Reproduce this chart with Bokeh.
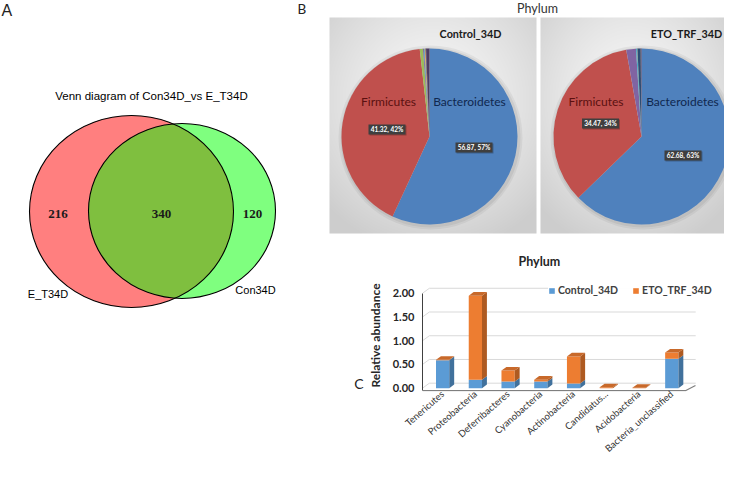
import math
import numpy as np
from bokeh.plotting import figure
from bokeh.layouts import row, column
from bokeh.models import Range1d, FixedTicker, Legend, LegendItem, NumeralTickFormatter
from bokeh.embed import file_html
from bokeh.resources import INLINE
from bokeh.core.properties import value

# ---------------- data ----------------
venn_names = ["E_T34D", "Con34D"]
venn_counts = [216, 340, 120]          # only E_T34D, shared, only Con34D
venn_title = "Venn diagram of Con34D_vs E_T34D"

pie_title = "Phylum"
pie_groups = ["Control_34D", "ETO_TRF_34D"]
pie_major = ["Bacteroidetes", "Firmicutes"]
control_major = [56.87, 41.32]
eto_major = [62.68, 34.47]
control_major_pct = [57, 42]
eto_major_pct = [63, 34]

bar_title = "Phylum"
bar_phyla = ["Tenericutes", "Proteobacteria", "Deferribacteres", "Cyanobacteria",
             "Actinobacteria", "Candidatus...", "Acidobacteria", "Bacteria_unclassified"]
control_bar = [0.59, 0.18, 0.14, 0.14, 0.10, 0.00, 0.00, 0.62]
eto_bar = [0.01, 1.77, 0.23, 0.04, 0.57, 0.02, 0.01, 0.13]
y_ticks = [0.0, 0.5, 1.0, 1.5, 2.0]
y_label = "Relative abundance"

# ---------------- styles ----------------
FONT = "Lato"
PIE_COLORS = ["#4F81BD", "#C0504D", "#9BBB59", "#8064A2", "#4BACC6",
              "#F79646", "#2C4D75", "#772C2A", "#5F7530", "#4D3B62"]
BLUE, BLUE_SIDE = "#5B9BD5", "#41719C"
ORANGE, ORANGE_SIDE, ORANGE_TOP = "#ED7D31", "#AE5A21", "#C8692A"
W, H = 724, 461


def bare_fig(w, h, xr, yr):
    p = figure(width=w, height=h, x_range=Range1d(*xr), y_range=Range1d(*yr),
               output_backend="svg", toolbar_location=None,
               x_axis_location=None, y_axis_location=None, min_border=0)
    p.outline_line_color = None
    p.grid.visible = False
    p.frame_align = False
    return p


def txt(p, x, y, s, size, color="black", font=FONT, style="normal", align="center", baseline="middle"):
    p.text(x=[x], y=[y], text=[s], text_font=value(font), text_font_size=size,
           text_color=color, text_font_style=style, text_align=align, text_baseline=baseline)


# ================= A : Venn =================
VENN_R = 290
vp = bare_fig(VENN_R, H, (0, VENN_R), (-H, 0))
txt(vp, 1, -1, "A", "16px", color="#222222", font="Liberation Sans", align="left", baseline="top")
txt(vp, 151, -95, venn_title, "11.5px", font="Liberation Sans")
ell = dict(x=[131, 181.5], y=[-211, -210.5], width=[204, 187], height=[192, 175])
vp.ellipse(x=ell["x"][:1], y=ell["y"][:1], width=ell["width"][:1], height=ell["height"][:1],
           fill_color="#FF0000", fill_alpha=0.5, line_color=None)
vp.ellipse(x=ell["x"][1:], y=ell["y"][1:], width=ell["width"][1:], height=ell["height"][1:],
           fill_color="#00FF00", fill_alpha=0.5, line_color=None)
vp.ellipse(x=ell["x"], y=ell["y"], width=ell["width"], height=ell["height"],
           fill_color=None, line_color="black", line_width=1.1)
for (cx, cy), n in zip([(57.5, -213), (161, -213), (252, -213)], venn_counts):
    txt(vp, cx, cy, str(n), "13px", color="#1a1a1a", font="Liberation Serif", style="bold")
txt(vp, 47.5, -293, venn_names[0], "11px", font="Liberation Sans")
txt(vp, 255, -289, venn_names[1], "11px", font="Liberation Sans")

# ================= B : pies =================
PIE_BOTTOM = 236
pp = bare_fig(W - VENN_R, PIE_BOTTOM, (VENN_R, W), (-PIE_BOTTOM, 0))
txt(pp, 297, -8, "B", "13.5px", color="#222222", align="left")
txt(pp, 537, -7.5, pie_title, "12.5px", color="#333333")


def gradient(w, h):
    yy, xx = np.mgrid[0:h, 0:w]
    u = (xx + 0.5) / w - 0.5
    v = (yy + 0.5) / h - 0.62
    d = np.clip(np.sqrt(u ** 2 + v ** 2) / 0.72, 0, 1)
    c = (247 - 42 * d ** 1.4).astype(np.uint8)
    img = np.empty((h, w), dtype=np.uint32)
    view = img.view(dtype=np.uint8).reshape((h, w, 4))
    view[..., 0] = c
    view[..., 1] = c
    view[..., 2] = c
    view[..., 3] = 255
    return img


boxes = [(329, 536), (540, W)]
BOX_TOP, BOX_BOT = 17, 233
for (l, r) in boxes:
    pp.image_rgba(image=[gradient(r - l, BOX_BOT - BOX_TOP)], x=l, y=-BOX_BOT,
                  dw=r - l, dh=BOX_BOT - BOX_TOP)

pie_specs = [
    (429, -136, control_major + control_bar, control_major, control_major_pct,
     [(388, -101), (469, -101)], [(386.5, -129), (473.5, -147)], (470, -33)),
    (641, -136, eto_major + eto_bar, eto_major, eto_major_pct,
     [(595.5, -101), (682, -101)], [(600, -123), (682.5, -155)], (686, -33)),
]
name_colors = ["#10284F", "#5B1010"]
for gi, (cx, cy, vals, major, pct, name_pos, lab_pos, sub_pos) in enumerate(pie_specs):
    vals = np.array(vals, float)
    frac = vals / vals.sum()
    cum = np.concatenate([[0.0], np.cumsum(frac)])
    start = np.pi / 2 - 2 * np.pi * cum[:-1]
    end = np.pi / 2 - 2 * np.pi * cum[1:]
    keep = vals > 0
    cols = [c for c, k in zip(PIE_COLORS, keep) if k]
    pp.circle(x=[cx + 1], y=[cy - 1], radius=92, fill_color="black", fill_alpha=0.05, line_color=None)
    pp.circle(x=[cx + 1], y=[cy - 1], radius=90, fill_color="black", fill_alpha=0.06, line_color=None)
    pp.wedge(x=cx, y=cy, radius=88, start_angle=start[keep], end_angle=end[keep], direction="clock",
             fill_color=cols, line_color=None)
    txt(pp, name_pos[0][0], name_pos[0][1], pie_major[1], "12px", color=name_colors[1])
    txt(pp, name_pos[1][0], name_pos[1][1], pie_major[0], "12px", color=name_colors[0])
    for (lx, ly), v, pc in zip([lab_pos[1], lab_pos[0]], major, pct):
        pp.rect(x=[lx + 1], y=[ly - 1], width=37, height=10, fill_color="black", fill_alpha=0.25, line_color=None)
        pp.rect(x=[lx], y=[ly], width=37, height=10, fill_color="#3F3F3F", line_color=None)
        txt(pp, lx, ly, f"{v:.2f}, {pc}%", "6.5px", color="white", style="bold")
    txt(pp, sub_pos[0], sub_pos[1], pie_groups[gi], "10.8px", color="#1a1a1a", style="bold")

# ================= C : 3D stacked bars =================
BAR_TOP = PIE_BOTTOM
C_RIGHT = 364
cp = bare_fig(C_RIGHT - VENN_R, H - BAR_TOP, (VENN_R, C_RIGHT), (-H, -BAR_TOP))
txt(cp, C_RIGHT - 1, -383, "C", "14px", color="#222222", align="right")

FRAME_L, FRAME_R, FRAME_T = 417, 712, 279
PX_PER_CAT = 33.3
XL = -0.115
XR = XL + (FRAME_R - FRAME_L) / PX_PER_CAT
bp = figure(width=W - C_RIGHT, height=H - BAR_TOP, x_range=Range1d(XL, XR), y_range=Range1d(-0.07, 2.29),
            output_backend="svg", toolbar_location=None,
            min_border_left=FRAME_L - C_RIGHT, min_border_right=W - FRAME_R,
            min_border_top=FRAME_T - BAR_TOP, min_border_bottom=68)
bp.frame_align = False
bp.outline_line_color = None
bp.xgrid.visible = False
bp.ygrid.visible = False

BAR_W, DX, DY = 0.405, 0.15, 0.075
GDX, GDY, BACK_R = 0.21, 0.105, 8.23

bp.multi_line(xs=[[XL, XL + GDX, BACK_R] for _ in y_ticks],
              ys=[[t, t + GDY, t + GDY] for t in y_ticks], line_color="#D9D9D9", line_width=1)
n = len(bar_phyla)
bp.line(x=[XL, n - 0.07, n - 0.07 + GDX * 1.4], y=[-0.05, -0.05, -0.05 + GDY], line_color="#7F7F7F", line_width=1.2)

xs = np.arange(n) + 0.5
ctrl = np.array(control_bar)
eto = np.array(eto_bar)
tops = ctrl + eto

rend = {}
for key, b, t, c_front, c_side in [("c", np.zeros(n), ctrl, BLUE, BLUE_SIDE),
                                   ("e", ctrl, tops, ORANGE, ORANGE_SIDE)]:
    rend[key] = bp.quad(left=xs - BAR_W / 2, right=xs + BAR_W / 2, bottom=b, top=t,
                        fill_color=c_front, line_color=None)
    keep = t - b > 0
    sx = [[x + BAR_W / 2, x + BAR_W / 2 + DX, x + BAR_W / 2 + DX, x + BAR_W / 2]
          for x, k in zip(xs, keep) if k]
    sy = [[bb, bb + DY, tt + DY, tt] for bb, tt, k in zip(b, t, keep) if k]
    bp.patches(xs=sx, ys=sy, fill_color=c_side, line_color=None)
bp.patches(xs=[[x - BAR_W / 2, x - BAR_W / 2 + DX, x + BAR_W / 2 + DX, x + BAR_W / 2] for x in xs],
           ys=[[t, t + DY, t + DY, t] for t in tops], fill_color=ORANGE_TOP, line_color=None)

bp.xaxis.ticker = FixedTicker(ticks=list(xs))
bp.xaxis.major_label_overrides = {float(x): s for x, s in zip(xs, bar_phyla)}
bp.xaxis.major_label_orientation = 0.72
bp.xaxis.axis_line_color = None
bp.xaxis.major_tick_line_color = None
bp.xaxis.minor_tick_line_color = None
bp.xaxis.major_tick_out = 0
bp.xaxis.major_tick_in = 0
bp.xaxis.minor_tick_out = 0
bp.xaxis.axis_label_standoff = 0
bp.xaxis.major_label_standoff = 1
bp.xaxis.major_label_text_font = FONT
bp.xaxis.major_label_text_font_size = "9.5px"
bp.xaxis.major_label_text_color = "#333333"

bp.yaxis.ticker = FixedTicker(ticks=y_ticks)
bp.yaxis.formatter = NumeralTickFormatter(format="0.00")
bp.yaxis.bounds = (-0.05, 2.0)
bp.yaxis.axis_line_color = "#404040"
bp.yaxis.major_tick_line_color = None
bp.yaxis.minor_tick_line_color = None
bp.yaxis.major_tick_out = 0
bp.yaxis.major_tick_in = 0
bp.yaxis.minor_tick_out = 0
bp.yaxis.major_label_standoff = 8
bp.yaxis.major_label_text_font = FONT
bp.yaxis.major_label_text_font_style = "bold"
bp.yaxis.major_label_text_font_size = "11px"
bp.yaxis.major_label_text_color = "#262626"
bp.yaxis.axis_label = y_label
bp.yaxis.axis_label_text_font = FONT
bp.yaxis.axis_label_text_font_style = "bold"
bp.yaxis.axis_label_text_font_size = "12px"
bp.yaxis.axis_label_text_color = "#262626"
bp.yaxis.axis_label_standoff = 7

bp.title.text = bar_title
bp.title.align = "left"
bp.title.offset = 96
bp.title.text_font = FONT
bp.title.text_font_size = "12.5px"
bp.title.text_font_style = "bold"
bp.title.text_color = "#262626"
bp.title.standoff = 22

legend = Legend(items=[LegendItem(label=pie_groups[0], renderers=[rend["c"]]),
                       LegendItem(label=pie_groups[1], renderers=[rend["e"]])],
                orientation="horizontal", location=(126, 95),
                glyph_width=7, glyph_height=7, label_standoff=3, spacing=14,
                padding=2, margin=0, border_line_color=None,
                label_text_font=FONT, label_text_font_style="bold",
                label_text_font_size="10.5px", label_text_color="#404040",
                label_height=10)
bp.add_layout(legend)

layout = row(vp, column(pp, row(cp, bp)))
open("out.html", "w").write(file_html(layout, INLINE))
